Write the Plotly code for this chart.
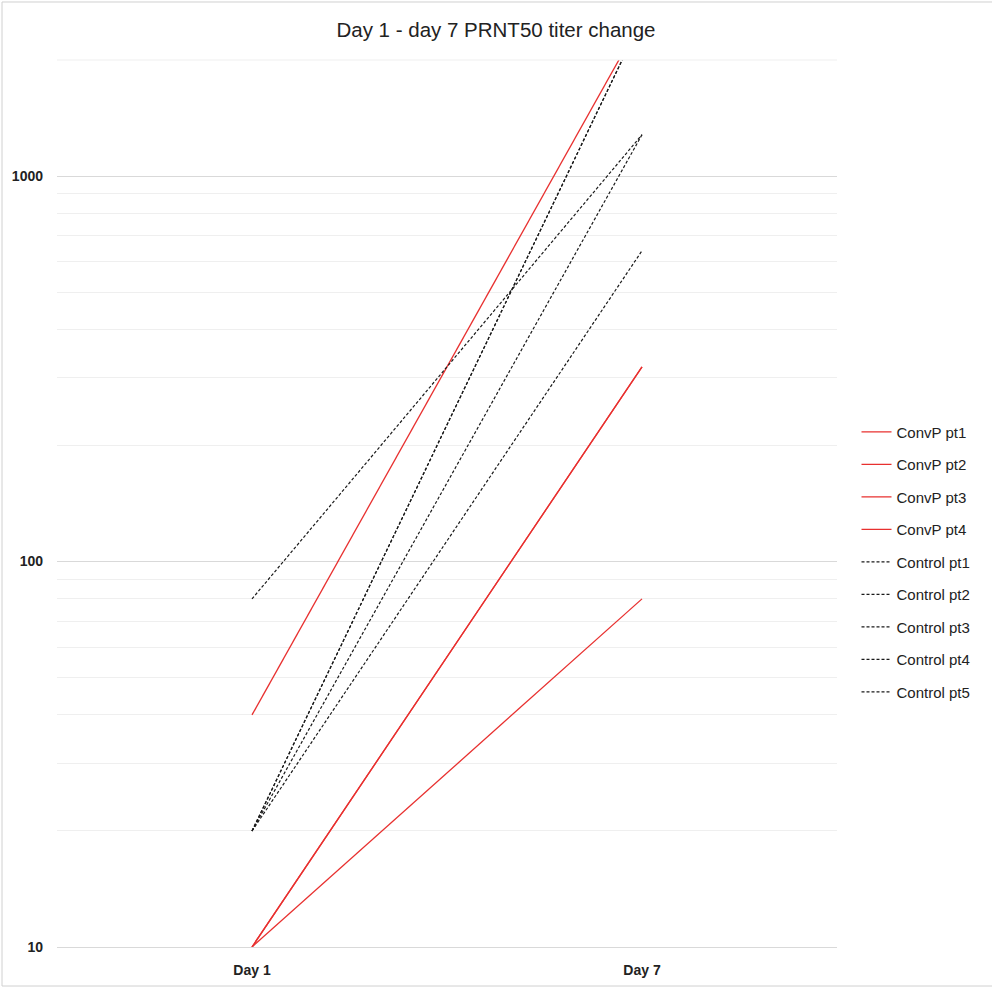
import plotly.graph_objects as go

days = ["Day 1", "Day 7"]
series_names = ["ConvP pt1", "ConvP pt2", "ConvP pt3", "ConvP pt4",
                "Control pt1", "Control pt2", "Control pt3", "Control pt4", "Control pt5"]
day1 = [40, 10, 10, 10, 80, 20, 20, 20, 20]
day7 = [2560, 320, 320, 80, 1280, 2560, 2560, 1280, 640]

FONT = "Liberation Sans"
RED = "#e8302f"

fig = go.Figure()
for name, a, b in zip(series_names, day1, day7):
    is_conv = name.startswith("ConvP")
    fig.add_trace(go.Scatter(
        x=days, y=[a, b], mode="lines", name=name, legendgroup=name,
        line=dict(color=RED if is_conv else "#1a1a1a", width=1.3 if is_conv else 1.2,
                  dash="solid" if is_conv else "3px,2px"),
    ))

fig.update_layout(
    width=992, height=988,
    margin=dict(l=57, r=155, t=60, b=41),
    paper_bgcolor="white", plot_bgcolor="white",
    title=dict(text="Day 1 - day 7 PRNT50 titer change", x=0.5, xanchor="center",
               y=1 - 30 / 988, yanchor="middle",
               font=dict(family=FONT, size=20.5, color="#222")),
    font=dict(family=FONT, color="#222"),
    legend=dict(x=1.025, xanchor="left", y=0.599, yanchor="top",
                font=dict(family=FONT, size=15, color="#222"),
                tracegroupgap=10, bgcolor="rgba(0,0,0,0)"),
    xaxis=dict(type="category", range=[-0.5, 1.5], showgrid=False, zeroline=False,
               showline=True, linecolor="#d9d9d9", linewidth=1, ticks="",
               ticklabelstandoff=10, automargin=False,
               tickfont=dict(family=FONT, size=14, color="#222", weight="bold")),
    yaxis=dict(type="log", range=[1, 3.30103], dtick=1, showgrid=True, gridcolor="#d9d9d9",
               gridwidth=1, zeroline=False, showline=False, ticks="",
               tickvals=[10, 100, 1000], ticktext=["10", "100", "1000"],
               ticklabelstandoff=13, automargin=False,
               tickfont=dict(family=FONT, size=14, color="#222", weight="bold"),
               minor=dict(showgrid=True, gridcolor="#efefef", gridwidth=1, dtick="D1")),
    shapes=[
        dict(type="line", xref="paper", yref="paper", x0=0, x1=1, y0=1, y1=1,
             line=dict(color="#efefef", width=1)),
        dict(type="rect", xref="paper", yref="paper",
             x0=-0.0705, x1=1.205, y0=-0.044, y1=1.0654,
             line=dict(color="#d0d0d0", width=1)),
    ],
)

fig.write_html("out.html", config={"displayModeBar": False},
               post_script="document.body.style.margin='0';document.body.style.overflow='hidden';")
